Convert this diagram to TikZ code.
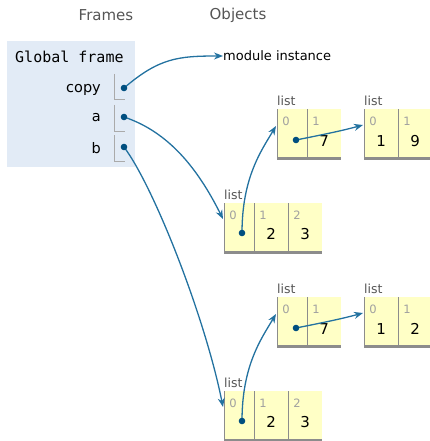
\documentclass[tikz,border=0pt]{standalone}
\usepackage{fontspec}
\setmainfont{DejaVu Sans}
\setmonofont{DejaVu Sans Mono}
\usetikzlibrary{arrows.meta}
\definecolor{framebg}{HTML}{E2EBF6}
\definecolor{cellyellow}{HTML}{FFFFC6}
\definecolor{cellgray}{HTML}{8C8C8C}
\definecolor{ptrgray}{HTML}{AAAAAA}
\definecolor{arrowc}{HTML}{2372A0}
\definecolor{dotc}{HTML}{004F80}
\definecolor{labgray}{HTML}{555555}
\definecolor{idxgray}{HTML}{A0A0A0}
\tikzset{
  hdr/.style={font=\fontsize{15}{17}\selectfont, text=labgray, inner sep=0pt},
  varname/.style={font=\fontsize{14.5}{16}\selectfont, anchor=east, inner sep=0pt},
  cell/.style={fill=cellyellow, inner sep=0pt, anchor=north west, minimum height=50pt,
    path picture={\draw[cellgray, line width=2pt] (path picture bounding box.north west) -- (path picture bounding box.south west);
                  \draw[cellgray, line width=4pt] (path picture bounding box.south west) -- (path picture bounding box.south east);}},
  idx/.style={font=\fontsize{11.5}{12}\selectfont, text=idxgray, inner sep=0pt},
  val/.style={font=\fontsize{15}{16}\selectfont, inner sep=0pt},
  listlab/.style={font=\fontsize{12.5}{14}\selectfont, text=labgray, inner sep=0pt, anchor=south west},
  ptr/.style={draw=arrowc, line width=1.3pt, -{Stealth[length=9pt,width=7pt]}},
  dotstyle/.style={fill=dotc},
}
\begin{document}
\begin{tikzpicture}[x=1pt,y=-1pt]
\useasboundingbox (0,0) rectangle (429,441);
% headers
\node[hdr] (hframes) at (106,15) {Frames};
\node[hdr] (hobjects) at (238,15) {Objects};
% frame
\node[fill=framebg, minimum width=128pt, minimum height=126pt, anchor=north west, inner sep=0pt] (gframe) at (7,41) {};
\node[font=\ttfamily\fontsize{15}{16}\selectfont, anchor=west, inner sep=0pt] (gtitle) at (15,57) {Global frame};
\node[varname] (ncopy) at (101,90) {copy};
\node[varname] (na) at (101,118) {a};
\node[varname] (nb) at (101,148) {b};
\foreach \y in {74,105,135}{
  \draw[ptrgray, line width=1pt] (114,\y) -- ++(0,26) -- ++(11,0);
}
\coordinate (dcopy) at (124,88);
\coordinate (da) at (124,117);
\coordinate (db) at (124,147);
% module instance
\node[font=\fontsize{13}{15}\selectfont, anchor=west, inner sep=0pt] (mod) at (223,56) {module instance};
% ---------- top group ----------
\node[listlab] (t1lab) at (277,106) {list};
\node[cell, minimum width=30pt] (t1c0) at (277,109) {};
\node[cell, minimum width=34pt] (t1c1) at (307,109) {};
\node[idx] at ([xshift=9pt,yshift=-12pt]t1c0.north west) {0};
\node[idx] at ([xshift=9pt,yshift=-12pt]t1c1.north west) {1};
\node[val] (t1v1) at ([yshift=-32pt]t1c1.north) {7};
\coordinate (t1d) at (296,140);

\node[listlab] (t2lab) at (364,106) {list};
\node[cell, minimum width=34pt] (t2c0) at (364,109) {};
\node[cell, minimum width=34pt] (t2c1) at (398,109) {};
\node[idx] at ([xshift=9pt,yshift=-12pt]t2c0.north west) {0};
\node[idx] at ([xshift=9pt,yshift=-12pt]t2c1.north west) {1};
\node[val] (t2v0) at ([yshift=-32pt]t2c0.north) {1};
\node[val] (t2v1) at ([yshift=-32pt]t2c1.north) {9};

\node[listlab] (m1lab) at (224,200) {list};
\node[cell, minimum width=30pt] (m1c0) at (224,203) {};
\node[cell, minimum width=34pt] (m1c1) at (254,203) {};
\node[cell, minimum width=34pt] (m1c2) at (288,203) {};
\node[idx] at ([xshift=9pt,yshift=-12pt]m1c0.north west) {0};
\node[idx] at ([xshift=9pt,yshift=-12pt]m1c1.north west) {1};
\node[idx] at ([xshift=9pt,yshift=-12pt]m1c2.north west) {2};
\node[val] (m1v1) at ([yshift=-31pt]m1c1.north) {2};
\node[val] (m1v2) at ([yshift=-31pt]m1c2.north) {3};
\coordinate (m1d) at (242,233);

% ---------- bottom group ----------
\node[listlab] (b1lab) at (277,294) {list};
\node[cell, minimum width=30pt] (b1c0) at (277,297) {};
\node[cell, minimum width=34pt] (b1c1) at (307,297) {};
\node[idx] at ([xshift=9pt,yshift=-12pt]b1c0.north west) {0};
\node[idx] at ([xshift=9pt,yshift=-12pt]b1c1.north west) {1};
\node[val] (b1v1) at ([yshift=-32pt]b1c1.north) {7};
\coordinate (b1d) at (296,328);

\node[listlab] (b2lab) at (364,294) {list};
\node[cell, minimum width=34pt] (b2c0) at (364,297) {};
\node[cell, minimum width=34pt] (b2c1) at (398,297) {};
\node[idx] at ([xshift=9pt,yshift=-12pt]b2c0.north west) {0};
\node[idx] at ([xshift=9pt,yshift=-12pt]b2c1.north west) {1};
\node[val] (b2v0) at ([yshift=-32pt]b2c0.north) {1};
\node[val] (b2v1) at ([yshift=-32pt]b2c1.north) {2};

\node[listlab] (m2lab) at (224,388) {list};
\node[cell, minimum width=30pt] (m2c0) at (224,391) {};
\node[cell, minimum width=34pt] (m2c1) at (254,391) {};
\node[cell, minimum width=34pt] (m2c2) at (288,391) {};
\node[idx] at ([xshift=9pt,yshift=-12pt]m2c0.north west) {0};
\node[idx] at ([xshift=9pt,yshift=-12pt]m2c1.north west) {1};
\node[idx] at ([xshift=9pt,yshift=-12pt]m2c2.north west) {2};
\node[val] (m2v1) at ([yshift=-31pt]m2c1.north) {2};
\node[val] (m2v2) at ([yshift=-31pt]m2c2.north) {3};
\coordinate (m2d) at (242,421);

% ---------- arrows ----------
\draw[ptr] (dcopy) .. controls +(35,-30) and +(-45,0) .. (mod.west);
\draw[ptr] (da) .. controls +(45,15) and +(-25,-50) .. ([xshift=-1pt,yshift=-16pt]m1c0.north west);
\draw[ptr] (db) .. controls +(30,40) and +(-18,-90) .. ([xshift=-1pt,yshift=-16pt]m2c0.north west);
\draw[ptr] (m1d) .. controls +(0,-55) and +(-15,25) .. ([xshift=-1pt,yshift=-17pt]t1c0.north west);
\draw[ptr] (m2d) .. controls +(0,-55) and +(-15,25) .. ([xshift=-1pt,yshift=-17pt]b1c0.north west);
\draw[ptr] (t1d) .. controls +(25,-5) and +(-22,6) .. ([xshift=-1pt,yshift=-16pt]t2c0.north west);
\draw[ptr] (b1d) .. controls +(25,-5) and +(-22,6) .. ([xshift=-1pt,yshift=-16pt]b2c0.north west);
% dots
\foreach \d in {dcopy,da,db,t1d,m1d,b1d,m2d}{
  \fill[dotstyle] (\d) circle (3.3pt);
}
\end{tikzpicture}
\end{document}
